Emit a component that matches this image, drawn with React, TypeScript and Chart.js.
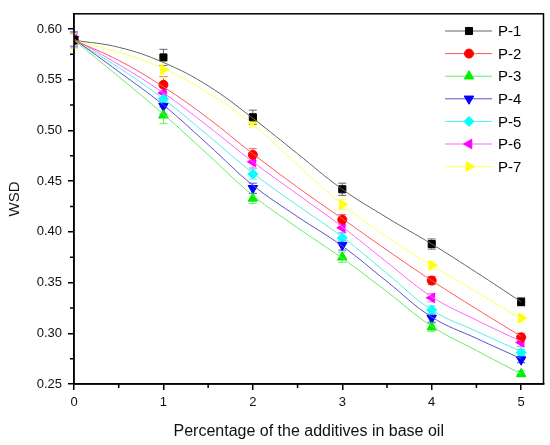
import { useEffect, useRef } from 'react'
import { Chart, registerables } from 'chart.js'
import { drawPoint } from 'chart.js/helpers'

Chart.register(...registerables)

const xValues = [0, 1, 2, 3, 4, 5]
const seriesNames = ['P-1', 'P-2', 'P-3', 'P-4', 'P-5', 'P-6', 'P-7']

// measured points
const p1 = [0.589, 0.572, 0.513, 0.442, 0.388, 0.331]
const p2 = [0.589, 0.545, 0.476, 0.412, 0.352, 0.296]
const p3 = [0.588, 0.515, 0.433, 0.375, 0.306, 0.260]
const p4 = [0.590, 0.524, 0.443, 0.387, 0.315, 0.274]
const p5 = [0.589, 0.531, 0.457, 0.394, 0.323, 0.281]
const p6 = [0.590, 0.537, 0.469, 0.404, 0.335, 0.291]
const p7 = [0.588, 0.560, 0.509, 0.427, 0.367, 0.315]

// error bar half-widths
const err1 = [0.008, 0.008, 0.007, 0.006, 0.005, 0.004]
const err2 = [0.007, 0.008, 0.006, 0.005, 0.004, 0.004]
const err3 = [0.007, 0.008, 0.005, 0.005, 0.004, 0.003]

// fitted curves, every half step
const fitX = [0, 0.5, 1, 1.5, 2, 2.5, 3, 3.5, 4, 4.5, 5]
const f1 = [0.589, 0.582, 0.567, 0.544, 0.512, 0.477, 0.442, 0.414, 0.388, 0.360, 0.331]
const f2 = [0.589, 0.569, 0.543, 0.512, 0.477, 0.444, 0.413, 0.382, 0.352, 0.324, 0.297]
const f3 = [0.589, 0.553, 0.516, 0.476, 0.436, 0.404, 0.374, 0.341, 0.307, 0.283, 0.260]
const f4 = [0.590, 0.558, 0.525, 0.486, 0.446, 0.415, 0.386, 0.351, 0.316, 0.295, 0.275]
const f5 = [0.589, 0.562, 0.531, 0.495, 0.458, 0.426, 0.395, 0.359, 0.323, 0.302, 0.282]
const f6 = [0.590, 0.565, 0.537, 0.504, 0.469, 0.437, 0.405, 0.370, 0.336, 0.313, 0.292]
const f7 = [0.589, 0.577, 0.561, 0.537, 0.506, 0.466, 0.427, 0.395, 0.367, 0.341, 0.314]

const yTicks = [0.25, 0.3, 0.35, 0.4, 0.45, 0.5, 0.55, 0.6]

const seriesValues = [p1, p2, p3, p4, p5, p6, p7]
const fitValues = [f1, f2, f3, f4, f5, f6, f7]
const seriesErrors = [err1, err2, err3, err3, err3, err2, err2]
const markerColors = ['#000000', '#ff0000', '#00ee00', '#0000ff', '#00ffff', '#ff00ff', '#ffff00']
const lineColors = ['#666666', '#ff5a5a', '#66ee66', '#5555cc', '#55eeee', '#ff66ff', '#ffff66']
const pointStyles = ['rect', 'circle', 'triangle', 'triangle', 'rectRot', 'triangle', 'triangle']
const rotations = [0, 0, 0, 180, 0, -90, 90]
const radii = [5, 4.5, 5.5, 5.5, 5, 5.5, 5.5]

const FONT = 'Arial, "Liberation Sans", sans-serif'
const N = seriesNames.length

// error bars, minor ticks, frame and a line+marker legend
const extras = {
  id: 'extras',
  beforeDatasetsDraw(chart: any) {
    const { ctx } = chart
    const y = chart.scales.y
    ctx.save()
    ctx.lineWidth = 1
    for (let i = 0; i < N; i++) {
      const ds = chart.data.datasets[N + i]
      const meta = chart.getDatasetMeta(N + i)
      ctx.strokeStyle = lineColors[i]
      meta.data.forEach((pt: any, j: number) => {
        const v = ds.data[j].y
        const e = seriesErrors[i][j]
        const top = y.getPixelForValue(v + e)
        const bot = y.getPixelForValue(v - e)
        ctx.beginPath()
        ctx.moveTo(pt.x, top)
        ctx.lineTo(pt.x, bot)
        ctx.moveTo(pt.x - 4, top)
        ctx.lineTo(pt.x + 4, top)
        ctx.moveTo(pt.x - 4, bot)
        ctx.lineTo(pt.x + 4, bot)
        ctx.stroke()
      })
    }
    ctx.restore()
  },
  afterDraw(chart: any) {
    const { ctx, chartArea: a } = chart
    const x = chart.scales.x
    const y = chart.scales.y
    ctx.save()
    ctx.strokeStyle = '#000'
    ctx.lineWidth = 1.5
    ctx.strokeRect(a.left, a.top, a.right - a.left, a.bottom - a.top)
    ctx.beginPath()
    for (let k = 0; k < xValues.length - 1; k++) {
      const px = x.getPixelForValue(xValues[k] + 0.5)
      ctx.moveTo(px, a.bottom)
      ctx.lineTo(px, a.bottom + 4)
    }
    for (let k = 0; k < yTicks.length - 1; k++) {
      const py = y.getPixelForValue(yTicks[k] + 0.025)
      ctx.moveTo(a.left, py)
      ctx.lineTo(a.left - 4, py)
    }
    ctx.stroke()

    // legend
    ctx.font = `15px ${FONT}`
    ctx.textBaseline = 'middle'
    seriesNames.forEach((name, i) => {
      const cy = 31 + i * 22.6
      ctx.strokeStyle = lineColors[i]
      ctx.lineWidth = 1
      ctx.beginPath()
      ctx.moveTo(445, cy)
      ctx.lineTo(492, cy)
      ctx.stroke()
      ctx.fillStyle = markerColors[i]
      ctx.strokeStyle = markerColors[i]
      drawPoint(ctx, { pointStyle: pointStyles[i], rotation: rotations[i], radius: radii[i], borderWidth: 1 }, 469, cy)
      ctx.fillStyle = '#000'
      ctx.fillText(name, 498, cy + 1)
    })
    ctx.restore()
  },
}

export default function App() {
  const ref = useRef<HTMLCanvasElement>(null)

  useEffect(() => {
    document.body.style.margin = '0'
    if (!ref.current) return

    const curves = fitValues.map((vals, i) => ({
      label: seriesNames[i] + ' fit',
      data: vals.map((v, j) => ({ x: fitX[j], y: v })),
      borderColor: lineColors[i],
      borderWidth: 1,
      pointRadius: 0,
      tension: 0.4,
      fill: false,
    }))
    const markers = seriesValues.map((vals, i) => ({
      label: seriesNames[i],
      data: vals.map((v, j) => ({ x: xValues[j], y: v })),
      showLine: false,
      backgroundColor: markerColors[i],
      pointBackgroundColor: markerColors[i],
      pointBorderColor: markerColors[i],
      pointStyle: pointStyles[i] as any,
      pointRotation: rotations[i],
      pointRadius: radii[i],
      pointBorderWidth: 1,
    }))

    const chart = new Chart(ref.current, {
      type: 'line',
      data: { datasets: [...curves, ...markers] },
      options: {
        animation: false,
        responsive: false,
        maintainAspectRatio: false,
        layout: { padding: { top: 6, right: 6, left: 0, bottom: 0 } },
        plugins: { legend: { display: false }, tooltip: { enabled: false } },
        scales: {
          x: {
            type: 'linear',
            min: 0,
            max: 5.25,
            afterFit: (s: any) => { s.height = 61 },
            ticks: {
              stepSize: 1,
              includeBounds: false,
              color: '#111',
              padding: 5,
              font: { family: FONT, size: 13 },
            },
            grid: { display: true, drawOnChartArea: false, drawTicks: true, tickLength: 6, color: '#000', lineWidth: 1.5 },
            border: { display: true, color: '#000', width: 1.5 },
            title: {
              display: true,
              text: 'Percentage of the additives in base oil',
              color: '#111',
              font: { family: FONT, size: 16 },
              padding: { top: 0, bottom: 4 },
            },
          },
          y: {
            type: 'linear',
            min: 0.25,
            max: 0.615,
            afterFit: (s: any) => { s.width = 74 },
            ticks: {
              stepSize: 0.05,
              includeBounds: false,
              color: '#111',
              padding: 6,
              font: { family: FONT, size: 13 },
              callback: (v: any) => Number(v).toFixed(2),
            },
            grid: { display: true, drawOnChartArea: false, drawTicks: true, tickLength: 6, color: '#000', lineWidth: 1.5 },
            border: { display: true, color: '#000', width: 1.5 },
            title: {
              display: true,
              text: 'WSD',
              color: '#111',
              font: { family: FONT, size: 15 },
              padding: { top: 6, bottom: 0 },
            },
          },
        },
      },
      plugins: [extras],
    })
    return () => chart.destroy()
  }, [])

  return (
    <div style={{ width: 550, height: 445, background: '#fff' }}>
      <canvas ref={ref} width={550} height={445} style={{ width: 550, height: 445 }} />
    </div>
  )
}
